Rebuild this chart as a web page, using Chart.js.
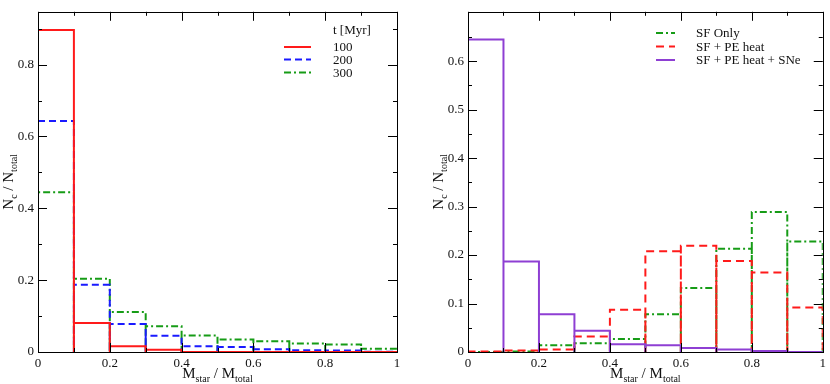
<!DOCTYPE html>
<html>
<head>
<meta charset="utf-8">
<script src="https://cdn.jsdelivr.net/npm/chart.js@4/dist/chart.umd.min.js"></script>
<style>
  body { margin: 0; background: #fff; }
  #wrap { position: relative; width: 830px; height: 384px; }
  canvas { position: absolute; top: 0; }
  #left { left: 0; }
  #right { left: 415px; }
</style>
</head>
<body>
<div id="wrap">
  <canvas id="left" width="415" height="384"></canvas>
  <canvas id="right" width="415" height="384"></canvas>
</div>
<script>
// bin edges (M_star / M_total)
const binEdges = [0, 0.1, 0.2, 0.3, 0.4, 0.5, 0.6, 0.7, 0.8, 0.9, 1];

// left panel: N_c / N_total at t = 100, 200, 300 Myr
const t100 = [0.896, 0.081, 0.016, 0.006, 0, 0, 0, 0, 0, 0];
const t200 = [0.643, 0.187, 0.078, 0.045, 0.016, 0.014, 0.008, 0.005, 0.004, 0.001];
const t300 = [0.445, 0.204, 0.111, 0.072, 0.046, 0.035, 0.030, 0.024, 0.021, 0.009];

// right panel: physics variants
const sfOnly = [0, 0.001, 0.014, 0.018, 0.027, 0.078, 0.132, 0.213, 0.289, 0.228];
const sfPe = [0.001, 0.003, 0.005, 0.032, 0.087, 0.208, 0.219, 0.188, 0.164, 0.092];
const sfPeSne = [0.645, 0.187, 0.078, 0.044, 0.016, 0.014, 0.008, 0.005, 0.002, 0];

// ticks
const xMajor = [0, 0.2, 0.4, 0.6, 0.8, 1];
const xMinor = [0.1, 0.3, 0.5, 0.7, 0.9];
const leftYMajor = [0, 0.2, 0.4, 0.6, 0.8];
const leftYMinor = [0.1, 0.3, 0.5, 0.7, 0.9];
const rightYMajor = [0, 0.1, 0.2, 0.3, 0.4, 0.5, 0.6];
const rightYMinor = [0.05, 0.15, 0.25, 0.35, 0.45, 0.55, 0.65];

const SERIF = "'Liberation Serif', 'DejaVu Serif', serif";

// outline of every bin as a rectangle standing on zero
function histPoints(heights) {
    const pts = [{ x: binEdges[0], y: 0 }];
    heights.forEach((h, i) => {
        pts.push({ x: binEdges[i], y: h });
        pts.push({ x: binEdges[i + 1], y: h });
        pts.push({ x: binEdges[i + 1], y: 0 });
    });
    return pts;
}

// frame with inward ticks on all four sides
const frameTicks = {
    id: 'frameTicks',
    afterDraw(chart, args, opts) {
        const { ctx, chartArea: a, scales } = chart;
        ctx.save();
        ctx.strokeStyle = '#000';
        ctx.lineWidth = 1;
        ctx.strokeRect(Math.round(a.left) + 0.5, Math.round(a.top) + 0.5,
            Math.round(a.right - a.left), Math.round(a.bottom - a.top));
        const tick = (vals, len) => {
            vals.forEach(v => {
                const px = Math.round(scales.x.getPixelForValue(v)) + 0.5;
                ctx.beginPath();
                ctx.moveTo(px, a.bottom); ctx.lineTo(px, a.bottom - len);
                ctx.moveTo(px, a.top); ctx.lineTo(px, a.top + len);
                ctx.stroke();
            });
        };
        const tickY = (vals, len) => {
            vals.forEach(v => {
                const py = Math.round(scales.y.getPixelForValue(v)) + 0.5;
                ctx.beginPath();
                ctx.moveTo(a.left, py); ctx.lineTo(a.left + len, py);
                ctx.moveTo(a.right, py); ctx.lineTo(a.right - len, py);
                ctx.stroke();
            });
        };
        tick(xMajor, 9); tick(xMinor, 4);
        tickY(opts.yMajor, 9); tickY(opts.yMinor, 4);
        ctx.restore();
    }
};

// text with subscripts: parts = [[text, isSub], ...]
function drawSubText(ctx, parts, cx, cy, rotate) {
    const big = '15px ' + SERIF, small = '10px ' + SERIF;
    let w = 0;
    parts.forEach(([t, sub]) => { ctx.font = sub ? small : big; w += ctx.measureText(t).width; });
    ctx.save();
    ctx.translate(cx, cy);
    if (rotate) ctx.rotate(-Math.PI / 2);
    ctx.fillStyle = '#111';
    ctx.textBaseline = 'alphabetic';
    let x = -w / 2;
    parts.forEach(([t, sub]) => {
        ctx.font = sub ? small : big;
        ctx.fillText(t, x, sub ? 8 : 4);
        x += ctx.measureText(t).width;
    });
    ctx.restore();
}

const axisTitles = {
    id: 'axisTitles',
    afterDraw(chart, args, opts) {
        const { ctx, chartArea: a } = chart;
        drawSubText(ctx, [['M', 0], ['star', 1], [' / M', 0], ['total', 1]], (a.left + a.right) / 2, 374, false);
        drawSubText(ctx, [['N', 0], ['c', 1], [' / N', 0], ['total', 1]], opts.yTitleX, (a.top + a.bottom) / 2, true);
    }
};

const sampleLegend = {
    id: 'sampleLegend',
    afterDraw(chart, args, opts) {
        const { ctx } = chart;
        ctx.save();
        ctx.font = '13px ' + SERIF;
        ctx.fillStyle = '#111';
        ctx.textBaseline = 'middle';
        if (opts.title) ctx.fillText(opts.title, opts.tx, opts.titleY);
        chart.data.datasets.forEach((ds, i) => {
            const y = opts.ys[i];
            ctx.strokeStyle = ds.borderColor;
            ctx.lineWidth = ds.borderWidth;
            ctx.setLineDash(ds.borderDash || []);
            ctx.beginPath();
            ctx.moveTo(opts.x0, y); ctx.lineTo(opts.x1, y);
            ctx.stroke();
            ctx.fillText(ds.label, opts.tx, y + 1);
        });
        ctx.restore();
    }
};

function series(label, heights, color, dash, order) {
    return {
        label, data: histPoints(heights), borderColor: color, borderWidth: 2,
        borderDash: dash, pointRadius: 0, fill: false, tension: 0, order
    };
}

function makeChart(id, datasets, yMax, yMajor, yMinor, yWidth, padRight, legend, yTitleX) {
    return new Chart(document.getElementById(id), {
        type: 'line',
        data: { datasets },
        options: {
            responsive: false,
            animation: false,
            layout: { padding: { top: 1, right: padRight, left: 0, bottom: 0 } },
            scales: {
                x: {
                    type: 'linear', min: 0, max: 1,
                    afterBuildTicks: s => { s.ticks = xMajor.map(v => ({ value: v })); },
                    afterFit: s => { s.height = 32; },
                    grid: { display: false, drawTicks: false }, border: { display: false },
                    ticks: { padding: 4, color: '#111', font: { family: SERIF, size: 13 }, maxRotation: 0, callback: v => String(v) }
                },
                y: {
                    min: 0, max: yMax,
                    afterBuildTicks: s => { s.ticks = yMajor.map(v => ({ value: v })); },
                    afterFit: s => { s.width = yWidth; },
                    grid: { display: false, drawTicks: false }, border: { display: false },
                    ticks: { padding: 4, color: '#111', font: { family: SERIF, size: 13 }, callback: v => String(v) }
                }
            },
            plugins: {
                legend: { display: false },
                tooltip: { enabled: false },
                frameTicks: { yMajor, yMinor },
                axisTitles: { yTitleX },
                sampleLegend: legend
            }
        },
        plugins: [frameTicks, axisTitles, sampleLegend]
    });
}

makeChart('left', [
    series('100', t100, '#ff1a1a', [], 0),
    series('200', t200, '#1a1aff', [7, 4], 1),
    series('300', t300, '#169c16', [7, 3, 2, 3], 2)
], 0.947, leftYMajor, leftYMinor, 38, 18,
    { title: 't [Myr]', titleY: 31, tx: 333, x0: 284, x1: 311, ys: [47, 59.5, 72.5] }, 9);

makeChart('right', [
    series('SF Only', sfOnly, '#169c16', [7, 3, 2, 3], 2),
    series('SF + PE heat', sfPe, '#ff1a1a', [8, 5], 1),
    series('SF + PE heat + SNe', sfPeSne, '#8e3fd3', [], 0)
], 0.702, rightYMajor, rightYMinor, 53, 3,
    { title: '', tx: 281, x0: 241, x1: 260, ys: [33, 46.5, 60] }, 24);
</script>
</body>
</html>
